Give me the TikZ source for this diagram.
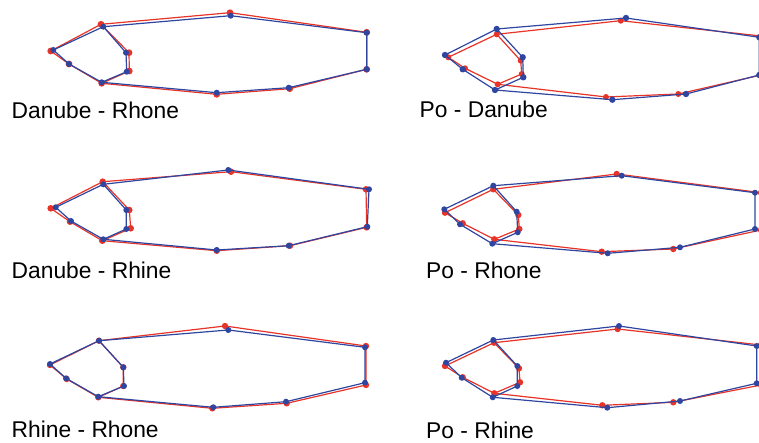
\documentclass[tikz,border=0pt]{standalone}
\usepackage{fontspec}
\setmainfont{Liberation Sans}
\definecolor{shred}{RGB}{232,52,40}
\definecolor{shblue}{RGB}{46,70,160}
\tikzset{
  outline/.style={line width=1.2pt, line join=round},
  lbl/.style={anchor=base west, inner sep=0pt, font=\fontsize{22.8}{27}\selectfont},
}
\newcommand\mkpts[2]{%
  \foreach \n/\px/\py in {#2}{\coordinate (#1\n) at (\px,\py);}}
\newcommand\drawshape[3]{%
  \draw[outline, #2] (#1A) -- (#1B) -- (#1C) -- (#1D) -- (#1E) -- (#1F) -- (#1G) -- (#1H) -- (#1I) -- cycle;
  \draw[outline, #2] (#1A) -- (#1J) -- (#1K) -- (#1G);
  \foreach \n in {A,B,C,D,E,F,G,H,I,J,K}{\fill[#2] (#1\n) circle (#3);}}
\begin{document}
\begin{tikzpicture}[x=1pt,y=-1pt]
\useasboundingbox (0,0) rectangle (759,443);
\clip (0,0) rectangle (759,443);
% Panel 1: Danube - Rhone
\mkpts{ar}{A/101/24.3,B/230/12.7,C/366.7/32.3,D/366.7/69.3,E/289.7/88.7,F/216.7/94.3,G/101.7/83.3,H/129.3/71,I/129/52.7,J/50.7/51,K/69/64}
\mkpts{ab}{A/103.3/26.7,B/230.7/15.7,C/366.7/32.7,D/366.7/69.3,E/288.7/87.7,F/216.7/92.7,G/101.7/82.3,H/126.7/71.7,I/126/52.7,J/53.3/50,K/69/64}
% Panel 2: Po - Danube
\mkpts{br}{A/496.7/34.3,B/620.7/20.7,C/761/36,D/761/75,E/678.3/94,F/606/97,G/497.7/84.3,H/521.7/74,I/520.7/60.7,J/448.3/57.3,K/465/68.3}
\mkpts{bb}{A/496.7/29,B/626/18,C/759.3/37.3,D/759.3/75,E/686/94,F/612.3/99.7,G/495/90,H/523.3/77.3,I/522.7/57.3,J/445/55,K/462.7/69.3}
% Panel 3: Danube - Rhine
\mkpts{cr}{A/102.7/181.7,B/231/171.7,C/366/189.3,D/366.7/227.3,E/290/245.7,F/216.7/250.7,G/102.3/240.7,H/130.7/228.3,I/129.3/210,J/50.7/208.3,K/70/221.7}
\mkpts{cb}{A/103.3/184.3,B/228.3/170,C/369/189.3,D/367.3/226.7,E/288.7/245.7,F/216.7/250,G/103.3/239.3,H/126.3/229,I/126.3/210,J/55.7/207.3,K/71/221}
% Panel 4: Po - Rhone
\mkpts{dr}{A/493.3/189.3,B/616.7/174,C/761/192.7,D/761/230,E/673.3/249,F/601.7/251.7,G/494.3/239.3,H/519.3/229,I/518.3/215,J/445/212.7,K/462.7/223.3}
\mkpts{db}{A/493.3/185.7,B/621.7/175.7,C/755/192.7,D/755/229,E/680/247.3,F/607.7/253.3,G/492.3/243.7,H/517.7/232.3,I/516.7/211.7,J/444.3/209.3,K/460/224.3}
% Panel 5: Rhine - Rhone
\mkpts{er}{A/99/340.7,B/225/326,C/366/346,D/366/385,E/286.7/403.3,F/212.3/408.3,G/98.3/397.3,H/123.3/386,I/123.3/367.3,J/50/365,K/66.7/379}
\mkpts{eb}{A/99/340.7,B/228.3/330,C/365/347.3,D/365/382.7,E/286/401.7,F/213.3/407.3,G/98.3/396.7,H/124/386,I/123.3/367.3,J/50/364,K/66/378.3}
% Panel 6: Po - Rhine
\mkpts{fr}{A/494/342.7,B/617.7/329,C/761/345,D/761/385,E/673.3/402.3,F/602.3/405.3,G/494.3/393.3,H/520/382.3,I/519/368.3,J/445/366,K/462.7/377.3}
\mkpts{fb}{A/493.3/340,B/619/326,C/756.7/346,D/756.7/383.3,E/680/401,F/607.3/407.7,G/492.7/397.3,H/517.3/386,I/517.3/366,J/446/362.7,K/461.7/377.7}
\drawshape{ar}{shred}{3.4}\drawshape{ab}{shblue}{3.0}
\drawshape{br}{shred}{3.0}\drawshape{bb}{shblue}{3.2}
\drawshape{cr}{shred}{3.3}\drawshape{cb}{shblue}{3.0}
\drawshape{dr}{shred}{3.2}\drawshape{db}{shblue}{3.0}
\drawshape{er}{shred}{3.2}\drawshape{eb}{shblue}{3.0}
\drawshape{fr}{shred}{3.2}\drawshape{fb}{shblue}{3.0}
\node[lbl] (l1) at (11.5,118.3) {Danube - Rhone};
\node[lbl] (l2) at (419.5,118) {Po - Danube};
\node[lbl] (l3) at (11.5,278.3) {Danube - Rhine};
\node[lbl] (l4) at (426,279) {Po - Rhone};
\node[lbl] (l5) at (11.5,437.7) {Rhine - Rhone};
\node[lbl] (l6) at (426,438.3) {Po - Rhine};
\end{tikzpicture}
\end{document}
